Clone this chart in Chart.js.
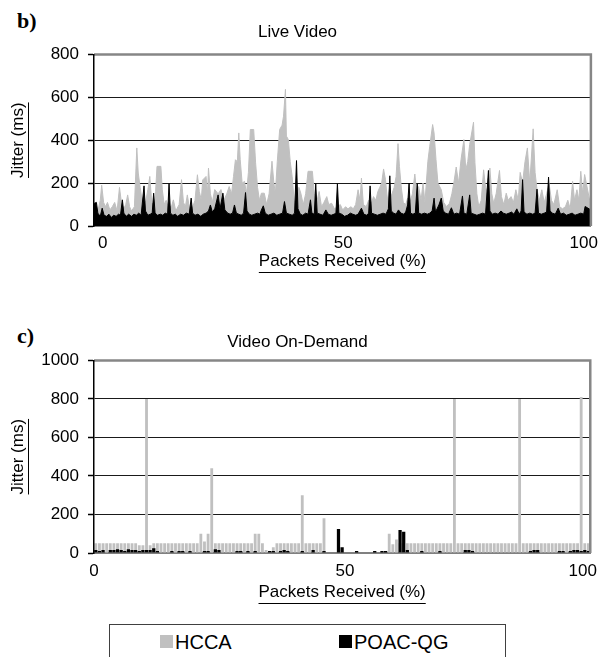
<!DOCTYPE html>
<html>
<head>
<meta charset="utf-8">
<script src="https://cdn.jsdelivr.net/npm/chart.js@4"></script>
<style>
  html, body { margin: 0; padding: 0; background: #fff; }
  #wrap { position: relative; width: 605px; height: 657px; overflow: hidden; background: #fff; }
  canvas { position: absolute; left: 0; }
  .panel { position: absolute; font-family: 'Liberation Serif', 'Times New Roman', serif; font-weight: bold; font-size: 22px; line-height: 22px; color: #000; }
  #legend { position: absolute; left: 109px; top: 624px; width: 397px; height: 50px; border: 1px solid #404040; box-sizing: border-box; font-family: 'Liberation Sans', Arial, sans-serif; font-size: 20px; color: #000; }
  .sw { position: absolute; width: 13px; height: 13px; top: 10px; }
  .lt { position: absolute; top: 6px; line-height: 22px; }
</style>
</head>
<body>
<div id="wrap">
  <div class="panel" style="left:17px; top:10px;">b)</div>
  <canvas id="live" width="605" height="300" style="top:0px;"></canvas>
  <div class="panel" style="left:17px; top:325px;">c)</div>
  <canvas id="vod" width="605" height="320" style="top:300px;"></canvas>
  <div id="legend"></div>
</div>
<script>
// ---------- DATA ----------
const seriesNames = ['HCCA', 'POAC-QG'];

// Live Video: [packets received (%), jitter (ms)]
const liveHCCA = [
  [-1.8,60],[-1.0,70],[-0.5,120],[-0.2,190],[0.2,110],[0.6,90],[1.0,110],[1.5,75],[2.0,90],[2.5,110],
  [3.0,70],[3.5,180],[3.9,110],[4.4,80],[4.8,100],[5.2,145],[5.6,90],[6.0,70],[6.6,90],[7.1,364],
  [7.4,247],[7.8,180],[8.2,120],[8.6,90],[9.0,120],[9.4,170],[9.8,231],[10.2,110],[10.7,90],[11.0,160],
  [11.3,278],[12.1,278],[12.4,169],[12.8,100],[13.2,120],[13.6,90],[14.3,90],[14.7,122],[15.2,70],[15.9,100],
  [16.4,216],[16.8,110],[17.2,90],[17.6,145],[18.0,90],[18.6,80],[19.2,120],[19.7,239],[20.1,161],[20.5,120],
  [20.8,215],[21.5,231],[21.8,150],[22.0,270],[22.4,150],[22.8,110],[23.3,170],[24.0,150],[24.6,170],[25.2,120],
  [25.8,150],[26.3,184],[26.8,150],[27.2,230],[27.6,309],[28.0,300],[28.3,434],[28.6,309],[29.0,200],[29.5,208],
  [29.9,150],[30.3,250],[30.7,450],[31.4,450],[31.8,294],[32.2,180],[32.6,120],[33.0,153],[33.6,153],[34.1,100],
  [34.6,150],[35.2,302],[35.6,200],[35.9,150],[36.3,300],[36.8,450],[37.3,470],[37.6,512],[38.0,637],[38.2,419],
  [38.6,403],[39.0,300],[39.4,230],[39.8,120],[40.3,100],[40.8,180],[41.2,153],[41.7,100],[42.2,150],[42.7,255],
  [43.6,255],[44.0,150],[44.5,110],[45.0,161],[45.5,90],[46.0,110],[46.6,137],[47.0,100],[47.6,106],[48.2,80],
  [48.8,90],[49.4,100],[49.9,75],[50.5,90],[51.0,80],[51.6,90],[52.1,80],[52.6,100],[53.1,169],[53.5,120],
  [53.8,223],[54.2,100],[54.8,90],[55.3,120],[55.8,100],[56.3,137],[56.8,120],[57.2,160],[57.6,180],[58.0,200],
  [58.4,266],[58.8,216],[59.2,120],[59.6,170],[60.0,140],[60.6,180],[61.0,230],[61.4,384],[61.7,278],[62.1,177],
  [62.5,110],[63.0,100],[63.4,130],[63.9,110],[64.4,150],[64.9,242],[65.3,150],[65.7,184],[66.2,120],[66.6,200],
  [67.0,110],[67.6,300],[68.0,372],[68.6,473],[68.9,434],[69.3,309],[69.7,200],[70.4,169],[70.9,110],[71.5,90],
  [72.1,106],[72.6,150],[73.0,200],[73.5,275],[74.0,200],[74.5,309],[75.1,403],[75.5,262],[75.9,300],[76.3,380],
  [77.1,484],[77.4,294],[77.8,150],[78.2,90],[78.7,120],[79.2,262],[79.6,180],[80.0,150],[80.5,270],[80.9,150],
  [81.3,106],[81.8,150],[82.5,259],[82.9,137],[83.4,100],[83.9,153],[84.3,120],[84.9,137],[85.4,110],[85.9,169],
  [86.4,120],[86.8,250],[87.3,200],[87.8,300],[88.3,364],[88.8,200],[89.5,453],[89.9,250],[90.3,169],[90.8,120],
  [91.3,169],[91.8,110],[92.3,150],[92.8,200],[93.3,120],[93.8,100],[94.5,169],[95.0,90],[95.6,80],[96.2,90],
  [96.7,120],[97.2,80],[97.7,208],[98.1,120],[98.6,169],[99.0,120],[99.4,255],[99.8,150],[100.2,240],[101.5,90]
];
const livePOAC = [
  [-1.8,105],[-1.3,110],[-1.0,60],[-0.5,45],[-0.1,83],[0.3,50],[0.8,45],[1.3,55],[1.8,40],[2.3,50],
  [2.8,45],[3.3,55],[3.7,50],[4.1,122],[4.4,60],[4.9,45],[5.4,55],[6.0,45],[6.5,55],[7.0,50],
  [7.5,60],[8.0,50],[8.6,187],[8.9,70],[9.4,50],[9.9,55],[10.3,60],[10.6,153],[10.9,60],[11.4,50],
  [12.0,55],[12.5,50],[13.0,60],[13.5,55],[13.8,197],[14.1,60],[14.6,50],[15.1,55],[15.6,45],[16.2,55],
  [16.8,50],[17.4,60],[18.0,55],[18.4,130],[18.7,60],[19.2,50],[19.8,55],[20.4,45],[20.9,55],[21.5,60],
  [22.0,70],[22.4,98],[22.8,65],[23.3,80],[24.0,145],[24.4,80],[25.0,153],[25.4,75],[26.0,60],[26.5,55],
  [27.0,60],[27.4,98],[27.8,60],[28.3,55],[28.8,50],[29.3,60],[29.7,156],[30.0,70],[30.5,55],[31.0,50],
  [31.6,55],[32.2,60],[32.7,55],[33.0,75],[33.4,94],[33.8,60],[34.4,50],[35.0,55],[35.6,60],[36.2,50],
  [36.8,55],[37.4,60],[37.8,114],[38.2,60],[38.8,55],[39.4,50],[39.9,60],[40.3,305],[40.6,80],[41.1,55],
  [41.6,50],[42.2,60],[42.7,55],[43.2,122],[43.5,60],[44.0,55],[44.3,197],[44.6,60],[45.2,55],[45.8,50],
  [46.4,75],[46.9,55],[47.5,50],[48.1,55],[48.5,60],[48.8,197],[49.1,60],[49.7,55],[50.3,45],[50.9,50],
  [51.5,60],[52.0,55],[52.6,50],[53.1,55],[53.8,83],[54.3,55],[54.9,50],[55.3,60],[55.6,187],[55.9,60],
  [56.5,55],[57.1,50],[57.7,55],[58.3,60],[58.9,55],[59.4,80],[59.7,234],[60.0,70],[60.5,60],[61.0,55],
  [61.5,75],[62.0,60],[62.6,55],[63.0,65],[63.4,98],[63.7,200],[64.0,60],[64.5,55],[65.0,60],[65.4,197],
  [65.7,60],[66.3,55],[66.9,60],[67.5,55],[68.0,60],[68.5,70],[68.9,130],[69.2,65],[69.9,98],[70.4,130],
  [70.8,70],[71.3,60],[71.9,55],[72.5,85],[73.0,55],[73.6,60],[74.2,55],[74.8,140],[75.1,60],[75.7,55],
  [76.3,145],[76.6,60],[77.2,55],[77.8,50],[78.4,55],[79.0,60],[79.6,55],[80.2,259],[80.5,70],[81.0,55],
  [81.6,60],[82.2,55],[82.8,70],[83.3,60],[83.9,55],[84.5,60],[85.0,65],[85.5,55],[86.1,80],[86.6,55],
  [87.0,70],[87.3,216],[87.6,65],[88.2,55],[88.8,60],[89.4,55],[89.9,60],[90.3,172],[90.6,60],[91.2,55],
  [91.8,60],[92.3,65],[92.7,228],[93.0,70],[93.5,60],[94.1,55],[94.7,83],[95.2,55],[95.8,60],[96.4,50],
  [97.0,55],[97.6,60],[98.2,50],[98.8,55],[99.4,60],[100.0,55],[100.3,91],[101.5,75]
];
const liveXTicks = [0, 50, 100];
const liveYTicks = [0, 200, 400, 600, 800];

// Video On-Demand: one value per packet slot (slots start at vodStart, spaced vodStep %)
const vodStart = -2.42;
const vodStep = 0.762;
const vodHCCA = [
  50,50,50,50,50,50,50,50,50,50,50,50,
  40,40,800,40,
  50,50,50,50,50,50,50,50,50,50,50,50,50,
  100,60,100,440,
  50,50,50,50,50,50,50,50,50,50,50,
  100,100,50,15,10,30,
  50,50,50,50,50,50,50,
  300,
  50,50,50,50,50,
  180,
  0,0,0,0,0,0,0,0,0,0,0,0,0,0,0,0,0,
  100,45,70,
  50,50,50,50,50,50,50,50,50,50,50,50,50,50,50,
  800,
  50,50,50,50,50,50,50,50,50,50,50,50,50,50,50,50,50,
  800,
  50,50,50,50,50,50,50,50,50,50,50,50,50,50,50,50,
  810,
  50,50
];
const vodPOAC = [
  15,10,15,0,15,15,20,15,10,20, 15,15,10,15,15,15,25,10,0,0,
  0,10,0,10,10,0,10,0,0,0, 10,10,0,20,15,0,0,0,0,10,
  10,0,10,0,10,0,0,0,10,10, 0,10,15,10,0,0,0,10,0,0,
  15,0,0,10,0,0,0,125,30,0, 0,0,10,0,0,0,0,10,0,10,
  10,0,0,0,120,110,15,0,0,0, 10,0,0,0,0,10,0,0,0,0,
  0,0,15,15,10,0,0,0,0,0, 0,0,0,0,0,0,0,0,0,0,
  10,15,15,0,0,0,0,0,10,10, 0,10,15,15,10,15,10
];
const vodXTicks = [0, 50, 100];
const vodYTicks = [0, 200, 400, 600, 800, 1000];

// ---------- STYLE ----------
const FONT = "'Liberation Sans', Arial, sans-serif";
const GRAY = '#c0c0c0';
const BLACK = '#000000';
const seriesColors = [GRAY, BLACK];
Chart.defaults.font.family = FONT;
Chart.defaults.color = '#000';

const tickFont = { family: FONT, size: 17 };
const titleFont = { family: FONT, size: 17, weight: 'normal', lineHeight: 1.2 };

// gray frame (top + right) like the original plot area
const framePlugin = {
  id: 'frame',
  afterDatasetsDraw(chart) {
    const { ctx, chartArea: a } = chart;
    ctx.save();
    ctx.strokeStyle = '#868686';
    ctx.lineWidth = 2.5;
    ctx.beginPath();
    ctx.moveTo(a.left, a.top);
    ctx.lineTo(a.right, a.top);
    ctx.lineTo(a.right, a.bottom);
    ctx.stroke();
    ctx.restore();
  }
};

// underline the axis titles
const underlinePlugin = {
  id: 'underline',
  afterDraw(chart) {
    const ctx = chart.ctx;
    Object.values(chart.scales).forEach(s => {
      const t = s.options.title;
      if (!t || !t.display) return;
      const size = t.font.size, lh = size * 1.2;
      const pad = t.padding;
      ctx.save();
      ctx.font = `${size}px ${FONT}`;
      const w = ctx.measureText(t.text).width;
      ctx.strokeStyle = '#000';
      ctx.lineWidth = 1;
      ctx.beginPath();
      if (s.isHorizontal()) {
        const y = Math.round(s.bottom - lh / 2 - pad.bottom + size * 0.6) + 0.5;
        const cx = (s.left + s.right) / 2;
        ctx.moveTo(cx - w / 2, y); ctx.lineTo(cx + w / 2, y);
      } else {
        const x = Math.round(s.left + lh / 2 + pad.top + size * 0.6) + 0.5;
        const cy = (s.top + s.bottom) / 2;
        ctx.moveTo(x, cy - w / 2); ctx.lineTo(x, cy + w / 2);
      }
      ctx.stroke();
      ctx.restore();
    });
  }
};

function yScale(ticksArr, yTitlePadTop, width) {
  const maxV = ticksArr[ticksArr.length - 1];
  return {
    min: ticksArr[0], max: maxV,
    afterBuildTicks: s => { s.ticks = ticksArr.map(v => ({ value: v })); },
    ticks: { font: tickFont, color: '#000', padding: 9, callback: v => String(v) },
    grid: {
      color: c => (c.tick && (c.tick.value === maxV || c.tick.value === 0)) ? 'rgba(0,0,0,0)' : '#1a1a1a',
      lineWidth: 1, drawTicks: true, tickLength: 6, tickColor: '#000', tickWidth: 1.5
    },
    border: { color: '#000', width: 1.5, z: 1 },
    title: { display: true, text: 'Jitter (ms)', font: titleFont, color: '#000', padding: { top: yTitlePadTop, bottom: 0 } },
    afterFit: s => { s.width = width; }
  };
}

// ---------- CHART b) Live Video ----------
new Chart(document.getElementById('live'), {
  type: 'line',
  data: {
    datasets: [
      { label: seriesNames[0], data: liveHCCA.map(([x, y]) => ({ x, y })), borderColor: GRAY, backgroundColor: GRAY,
        fill: 'origin', borderWidth: 1, pointRadius: 0, tension: 0, order: 2 },
      { label: seriesNames[1], data: livePOAC.map(([x, y]) => ({ x, y })), borderColor: BLACK, backgroundColor: BLACK,
        fill: 'origin', borderWidth: 1, pointRadius: 0, tension: 0, order: 1 }
    ]
  },
  options: {
    responsive: false, animation: false, events: [],
    layout: { padding: { left: 0, right: 10, top: 0, bottom: 0 } },
    plugins: {
      legend: { display: false }, tooltip: { enabled: false },
      title: { display: true, text: 'Live Video', font: titleFont, color: '#000', padding: { top: 22, bottom: 12 } }
    },
    scales: {
      x: {
        type: 'linear', min: -1.8, max: 101.5,
        afterBuildTicks: s => { s.ticks = liveXTicks.map(v => ({ value: v })); },
        ticks: { font: tickFont, color: '#000', padding: 7, maxRotation: 0, autoSkip: false, callback: v => String(v) },
        grid: { display: false, drawTicks: false },
        border: { color: '#808080', width: 2 },
        title: { display: true, text: 'Packets Received (%)', font: titleFont, color: '#000', padding: { top: 0, bottom: 28 } },
        afterFit: s => { s.height = 74; }
      },
      y: yScale(liveYTicks, 8, 94)
    }
  },
  plugins: [framePlugin, underlinePlugin]
});

// ---------- CHART c) Video On-Demand ----------
const vodX = vodHCCA.map((_, i) => vodStart + i * vodStep);
const VOD_MIN = -2.8, VOD_MAX = 101.6;
new Chart(document.getElementById('vod'), {
  type: 'bar',
  data: {
    datasets: [
      { label: seriesNames[0], data: vodHCCA.map((y, i) => ({ x: vodX[i], y })), backgroundColor: GRAY,
        borderWidth: 0, grouped: false, barPercentage: 0.78, categoryPercentage: 1, order: 2 },
      { label: seriesNames[1], data: vodPOAC.map((y, i) => ({ x: vodX[i], y })), backgroundColor: BLACK,
        borderWidth: 0, grouped: false, barPercentage: 0.9, categoryPercentage: 1, order: 1 }
    ]
  },
  options: {
    responsive: false, animation: false, events: [],
    layout: { padding: { left: 0, right: 10, top: 0, bottom: 0 } },
    plugins: {
      legend: { display: false }, tooltip: { enabled: false },
      title: { display: true, text: 'Video On-Demand', font: titleFont, color: '#000', padding: { top: 32, bottom: 8 } }
    },
    scales: {
      x: {
        type: 'linear', min: VOD_MIN, max: VOD_MAX, offset: false,
        afterBuildTicks: s => { s.ticks = vodXTicks.map(v => ({ value: v === 0 ? VOD_MIN : v })); },
        ticks: { font: tickFont, color: '#000', padding: 8, maxRotation: 0, autoSkip: false,
                 callback: v => (v === VOD_MIN ? String(vodXTicks[0]) : String(v)) },
        grid: { display: false, drawTicks: false, offset: false },
        border: { color: '#808080', width: 2 },
        title: { display: true, text: 'Packets Received (%)', font: titleFont, color: '#000', padding: { top: 0, bottom: 17 } },
        afterFit: s => { s.height = 67; }
      },
      y: yScale(vodYTicks, 8, 94)
    }
  },
  plugins: [framePlugin, underlinePlugin]
});

// ---------- LEGEND ----------
const legend = document.getElementById('legend');
const legendPos = [50, 229];
seriesNames.forEach((name, i) => {
  const sw = document.createElement('div');
  sw.className = 'sw';
  sw.style.left = legendPos[i] + 'px';
  sw.style.background = seriesColors[i];
  legend.appendChild(sw);
  const t = document.createElement('div');
  t.className = 'lt';
  t.style.left = (legendPos[i] + 15) + 'px';
  t.textContent = name;
  legend.appendChild(t);
});
</script>
</body>
</html>
